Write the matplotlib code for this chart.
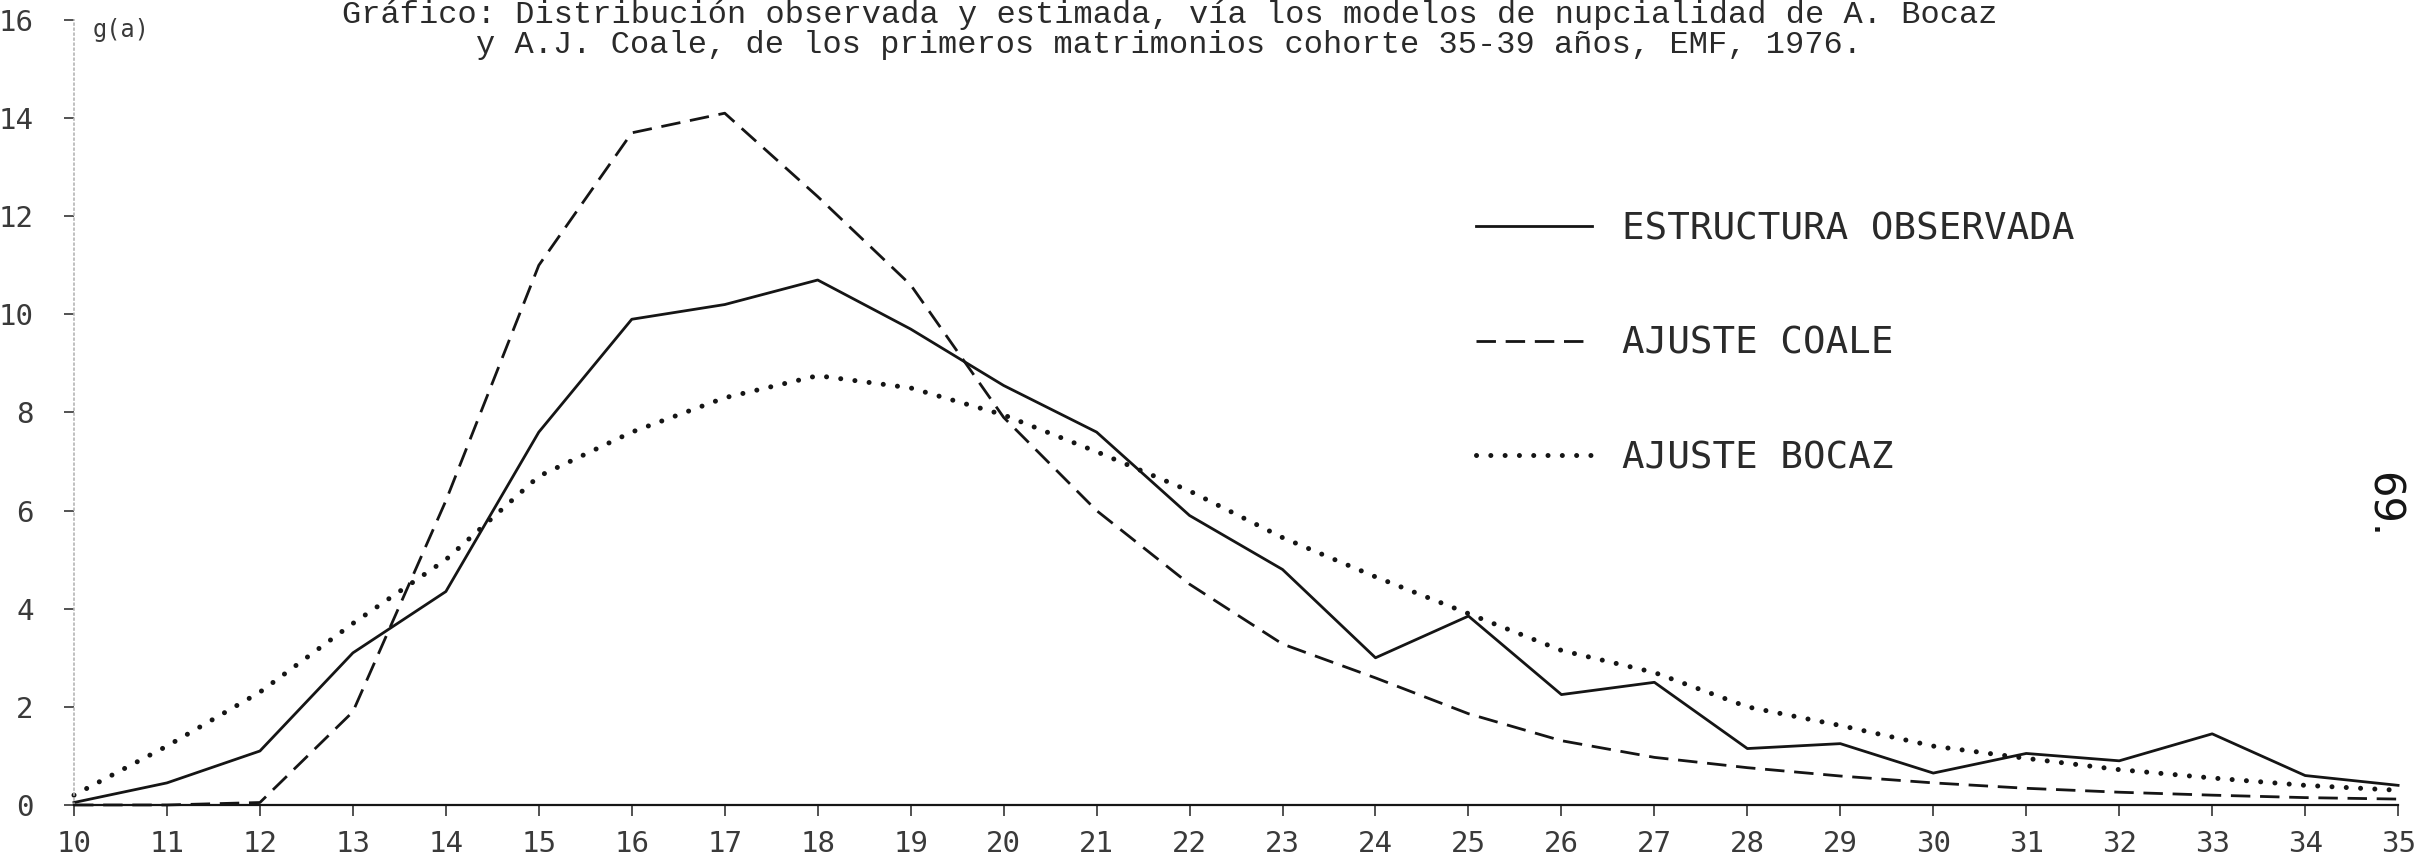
import matplotlib
matplotlib.use("Agg")
import matplotlib.pyplot as plt

# distribución de primeros matrimonios por edad, cohorte 35-39
edades = list(range(10, 36))
observada = [0.05, 0.45, 1.1, 3.1, 4.35, 7.6, 9.9, 10.2, 10.7, 9.7, 8.55, 7.6, 5.9,
             4.8, 3.0, 3.85, 2.25, 2.5, 1.15, 1.25, 0.65, 1.05, 0.9, 1.45, 0.6, 0.4]
coale = [0.0, 0.0, 0.05, 1.9, 6.2, 11.0, 13.7, 14.1, 12.4, 10.6, 7.9, 6.0, 4.5,
         3.28, 2.59, 1.86, 1.31, 0.97, 0.76, 0.59, 0.45, 0.34, 0.26, 0.2, 0.15, 0.12]
bocaz = [0.2, 1.2, 2.3, 3.7, 5.0, 6.7, 7.6, 8.3, 8.75, 8.5, 7.95, 7.2, 6.4,
         5.45, 4.65, 3.9, 3.15, 2.7, 2.0, 1.62, 1.2, 0.95, 0.72, 0.55, 0.4, 0.3]
yticks = [0, 2, 4, 6, 8, 10, 12, 14, 16]
etiquetas = ["ESTRUCTURA OBSERVADA", "AJUSTE COALE", "AJUSTE BOCAZ"]

titulo_1 = "Gráfico: Distribución observada y estimada, vía los modelos de nupcialidad de A. Bocaz"
titulo_2 = "y A.J. Coale, de los primeros matrimonios cohorte 35-39 años, EMF, 1976."

tinta = "#151515"

fig = plt.figure(figsize=(24.26, 8.65), dpi=100)
ax = fig.add_axes([0.0305, 0.0694, 0.958, 0.9075])

ax.plot(edades, observada, color=tinta, lw=2.0, clip_on=False, label=etiquetas[0])
ax.plot(edades, coale, color=tinta, lw=2.0, dashes=(7, 3.5), clip_on=False,
        label=etiquetas[1])
ax.plot(edades, bocaz, color=tinta, lw=3.6, dashes=(0.01, 2.85),
        dash_capstyle="round", clip_on=False, label=etiquetas[2])

ax.set_xlim(10, 35)
ax.set_ylim(0, 16)
ax.set_xticks(edades)
ax.set_yticks(yticks)

for s in ["top", "right"]:
    ax.spines[s].set_visible(False)
ax.spines["left"].set_color("#b5b5b5")
ax.spines["left"].set_linestyle((0, (1, 2)))
ax.spines["left"].set_linewidth(1.2)
ax.spines["bottom"].set_color(tinta)
ax.spines["bottom"].set_linewidth(1.6)

ax.tick_params(axis="x", direction="out", length=8, width=1.3, color="#444444",
               pad=10, labelsize=21, labelcolor="#3a3a3a")
ax.tick_params(axis="y", direction="out", length=7, width=1.3, color="#444444",
               pad=22, labelsize=21, labelcolor="#3a3a3a")
for lab in ax.get_xticklabels() + ax.get_yticklabels():
    lab.set_family("DejaVu Sans Mono")

leg = ax.legend(loc="upper left", bbox_to_anchor=(0.6085, 0.756),
                bbox_transform=fig.transFigure, frameon=False,
                handlelength=3.1, handletextpad=0.8, labelspacing=2.1,
                borderpad=0, borderaxespad=0,
                prop={"family": "DejaVu Sans Mono", "size": 27})
for t in leg.get_texts():
    t.set_color("#2a2a2a")

# cabecera del gráfico
fig.text(0.482, 1 - 15 / 865, titulo_1, ha="center", va="center",
         family="Liberation Mono", fontsize=23, color="#2a2a2a")
fig.text(0.482, 1 - 45 / 865, titulo_2, ha="center", va="center",
         family="Liberation Mono", fontsize=23, color="#2a2a2a")
fig.text(0.038, 1 - 30 / 865, "g(a)", ha="left", va="center",
         family="DejaVu Sans Mono", fontsize=17, color="#3a3a3a")

# número de página
fig.text(0.982, 1 - 505 / 865, "69.", ha="center", va="center", rotation=-90,
         family="DejaVu Sans", fontsize=30, color=tinta)

fig.savefig("out.png", dpi=100, facecolor="white")
